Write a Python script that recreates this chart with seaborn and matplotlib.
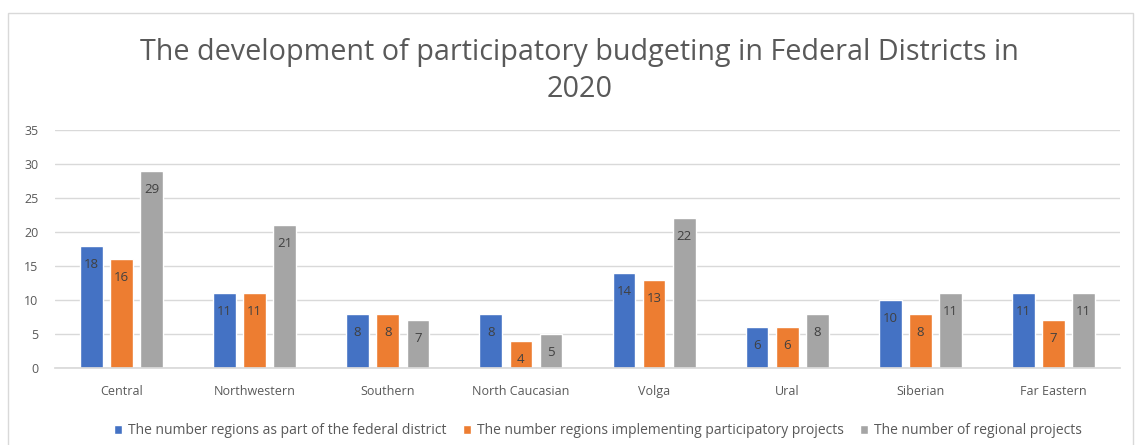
import matplotlib
matplotlib.use("Agg")
import matplotlib.pyplot as plt
import seaborn as sns
import pandas as pd
from matplotlib.patches import Rectangle

districts = ["Central", "Northwestern", "Southern", "North Caucasian", "Volga", "Ural", "Siberian", "Far Eastern"]
series_names = [
    "The number regions as part of the federal district",
    "The number regions implementing participatory projects",
    "The number of regional projects",
]
regions_in_district = [18, 11, 8, 8, 14, 6, 10, 11]
regions_implementing = [16, 11, 8, 4, 13, 6, 8, 7]
regional_projects = [29, 21, 7, 5, 22, 8, 11, 11]
yticks = [0, 5, 10, 15, 20, 25, 30, 35]
colors = ["#4472C4", "#ED7D31", "#A5A5A5"]

rows = []
for name, vals in zip(series_names, [regions_in_district, regions_implementing, regional_projects]):
    for d, v in zip(districts, vals):
        rows.append({"district": d, "series": name, "value": v})
df = pd.DataFrame(rows)

sns.set_theme(style="white")
plt.rcParams["font.family"] = ["Open Sans", "DejaVu Sans"]

fig = plt.figure(figsize=(11.43, 4.45), dpi=100)
ax = fig.add_axes([0.048, 0.173, 0.932, 0.535])

sns.barplot(data=df, x="district", y="value", hue="series", palette=colors,
            order=districts, hue_order=series_names, width=0.68, gap=0.25,
            saturation=1, ax=ax, legend=True, errorbar=None)

for cont in ax.containers:
    ax.bar_label(cont, labels=[f"{int(v)}" for v in cont.datavalues], label_type="edge",
                 padding=-18, fontsize=9.5, color="#404040")

ax.set_ylim(0, 35)
ax.set_yticks(yticks)
ax.set_yticklabels([str(t) for t in yticks])
ax.set_xlim(-0.5, len(districts) - 0.5)
ax.grid(axis="y", color="#D9D9D9", linewidth=1)
ax.set_axisbelow(True)
for s in ["top", "right", "left"]:
    ax.spines[s].set_visible(False)
ax.spines["bottom"].set_color("#D9D9D9")
ax.tick_params(axis="both", length=0, labelsize=9, colors="#595959")
ax.tick_params(axis="y", pad=12)
ax.tick_params(axis="x", pad=12)
ax.set_xlabel("")
ax.set_ylabel("")

handles, labels = ax.get_legend_handles_labels()
ax.legend_.remove()
fig.legend(handles, labels, loc="center", bbox_to_anchor=(0.523, 0.032), ncol=3,
           frameon=False, fontsize=10, handlelength=0.6, handleheight=0.6,
           handletextpad=0.4, columnspacing=1.2, labelcolor="#595959")

fig.text(0.507, 0.883, "The development of participatory budgeting in Federal Districts in",
         ha="center", va="center", fontsize=20.7, color="#595959")
fig.text(0.507, 0.799, "2020", ha="center", va="center", fontsize=20.7, color="#595959")

fig.patches.append(Rectangle((8 / 1143, -0.01), (1133 - 8) / 1143, 1 - 13 / 445 + 0.01,
                             transform=fig.transFigure, fill=False, edgecolor="#D9D9D9",
                             linewidth=1))

fig.savefig("out.png", dpi=100, facecolor="white")
